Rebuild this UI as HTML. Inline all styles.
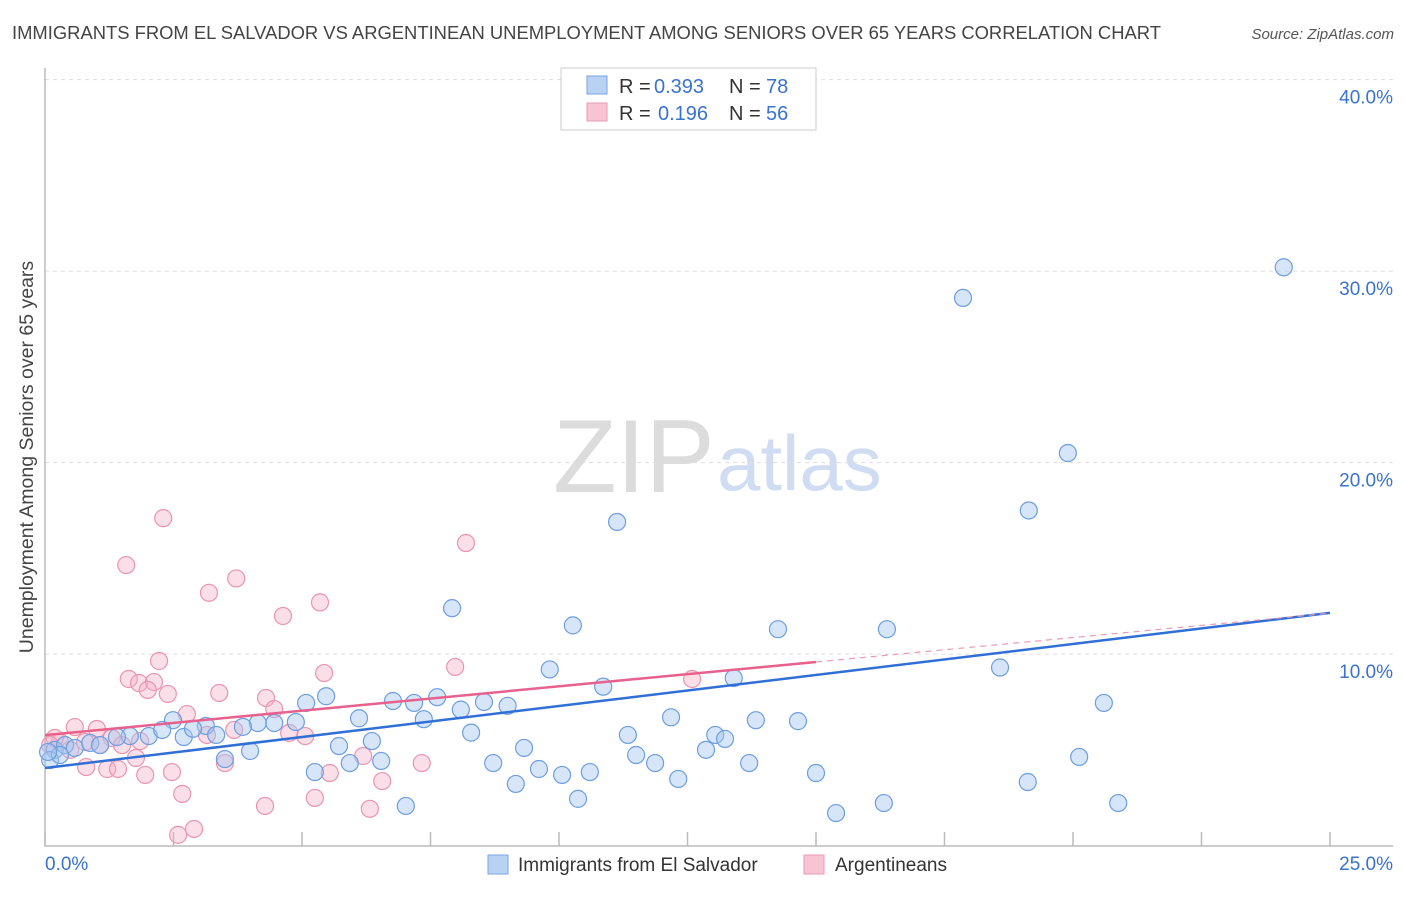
<!DOCTYPE html>
<html><head><meta charset="utf-8"><style>
body{margin:0;background:#fff;font-family:"Liberation Sans",sans-serif}
svg text{font-family:"Liberation Sans",sans-serif}
</style></head><body>
<svg id="chart" width="1406" height="892">
<text x="12" y="39" font-size="18.4" fill="#444">IMMIGRANTS FROM EL SALVADOR VS ARGENTINEAN UNEMPLOYMENT AMONG SENIORS OVER 65 YEARS CORRELATION CHART</text>
<text x="1394" y="39" font-size="15" fill="#555" font-style="italic" text-anchor="end">Source: ZipAtlas.com</text>
<text transform="translate(33,457) rotate(-90)" font-size="19.5" fill="#444" text-anchor="middle">Unemployment Among Seniors over 65 years</text>
<g>
<text x="553" y="492" font-size="104" fill="#dcdcdc" font-family="Liberation Serif,serif">ZIP</text>
<text x="717" y="490" font-size="78" fill="#cfdcf2">atlas</text>
</g>
<g id="grid"></g>
<g id="axes"></g>
<g id="pts"></g>
<g id="lines"></g>
<g>
<rect x="561" y="68" width="255" height="62" fill="#fff" stroke="#ccc"/>
<rect x="587" y="76" width="20" height="18" fill="#b9d2f4" stroke="#7ba5e2"/>
<rect x="587" y="103" width="20" height="18" fill="#f8c4d4" stroke="#ea9ab4"/>
<text x="619" y="93" font-size="20" fill="#333">R =</text>
<text x="654" y="93" font-size="20" fill="#3a72d0">0.393</text>
<text x="729" y="93" font-size="20" fill="#333">N =</text>
<text x="766" y="93" font-size="20" fill="#3a72d0">78</text>
<text x="619" y="120" font-size="20" fill="#333">R =</text>
<text x="658" y="120" font-size="20" fill="#3a72d0">0.196</text>
<text x="729" y="120" font-size="20" fill="#333">N =</text>
<text x="766" y="120" font-size="20" fill="#3a72d0">56</text>
</g>
<g>
<rect x="488" y="855" width="20" height="19" fill="#b9d2f4" stroke="#7ba5e2"/>
<text x="518" y="871" font-size="19" fill="#333">Immigrants from El Salvador</text>
<rect x="804" y="855" width="20" height="19" fill="#f8c4d4" stroke="#ea9ab4"/>
<text x="835" y="871" font-size="19" fill="#333">Argentineans</text>
</g>
</svg>
<script>
const blueX=[24.1,17.86,19.9,19.14,11.13,7.92,10.27,14.26,16.38,18.58,9.82,10.86,13.4,5.47,5.08,6.77,7.18,7.63,8.09,8.54,9.0,20.6,2.49,3.13,6.11,7.37,12.18,13.83,14.65,8.29,13.04,13.23,11.34,2.7,3.33,2.02,2.28,1.65,1.4,4.14,4.46,4.88,3.85,2.88,5.72,6.36,9.32,3.99,3.5,11.5,12.86,20.12,5.93,6.54,8.72,11.87,13.7,9.61,10.06,10.6,5.25,12.32,15.0,19.12,9.16,10.37,7.02,16.32,20.88,15.39,0.19,0.39,0.58,0.88,1.07,0.1,0.29,0.06];
const blueY=[30.2,28.6,20.5,17.5,16.9,12.4,11.5,11.3,11.3,9.3,9.2,8.3,8.75,7.8,7.45,7.55,7.45,7.75,7.1,7.5,7.3,7.45,6.55,6.25,6.65,6.6,6.7,6.55,6.5,5.9,5.78,5.57,5.78,5.67,5.78,5.72,6.04,5.72,5.67,6.4,6.4,6.45,6.2,6.1,5.2,5.46,5.1,4.94,4.52,4.73,5.0,4.63,4.31,4.42,4.31,4.31,4.31,4.0,3.69,3.84,3.84,3.48,3.79,3.32,3.22,2.44,2.07,2.22,2.22,1.7,5.0,5.25,5.1,5.36,5.25,4.47,4.73,4.89];
const pinkX=[2.3,8.19,1.58,3.72,3.19,5.35,4.63,2.22,7.98,5.43,1.63,1.83,2.12,2.0,2.39,3.39,4.3,4.46,2.76,3.68,0.58,1.01,12.59,5.06,4.75,3.15,1.3,1.85,1.5,1.07,0.78,0.29,0.19,0.1,0.49,1.77,6.19,3.5,7.33,0.8,1.21,1.42,1.95,2.47,5.54,6.56,2.67,4.28,5.25,6.32,2.59,2.9];
const pinkY=[17.1,15.8,14.65,13.95,13.2,12.7,11.99,9.64,9.33,9.01,8.7,8.49,8.54,8.13,7.92,7.97,7.71,7.13,6.87,6.04,6.19,6.09,8.7,5.72,5.88,5.78,5.62,5.46,5.25,5.25,5.41,5.41,5.62,5.25,5.0,4.58,4.68,4.31,4.31,4.1,4.0,4.0,3.69,3.84,3.79,3.37,2.7,2.07,2.49,1.92,0.56,0.87];
const blueFit=[4.05,12.15];
const pinkFit=[5.77,9.59,15.0];
const yTicks=[10,20,30,40];
const yTickLabels=["10.0%","20.0%","30.0%","40.0%"];
const xTickVals=[0,2.5,5,7.5,10,12.5,15,17.5,20,22.5,25];

const NS="http://www.w3.org/2000/svg";
const X=v=>45+v*51.4, Y=v=>845.6-v*19.15;
function mk(t,a,p){const e=document.createElementNS(NS,t);for(const k in a)e.setAttribute(k,a[k]);p.appendChild(e);return e;}
const grid=document.getElementById('grid'),axes=document.getElementById('axes'),pts=document.getElementById('pts'),lines=document.getElementById('lines');
yTicks.forEach((v,i)=>{
  const l=mk('line',{x1:45,x2:1393,y1:Y(v),y2:Y(v),stroke:'#ddd','stroke-dasharray':'4,4'},grid);
  
  
  const t=mk('text',{x:1393,y:Y(v)+24,'font-size':19,fill:'#3a72d0','text-anchor':'end'},grid);
  t.textContent=yTickLabels[i];
  
  
});
const ax=mk('path',{d:'M45,68V846H1393',fill:'none',stroke:'#bbb','stroke-width':1.5},axes);


xTickVals.forEach(v=>{
  const t=mk('line',{x1:X(v),x2:X(v),y1:832,y2:846,stroke:'#bbb','stroke-width':1.5},axes);
  
  
});
const xl=mk('text',{x:45,y:870,'font-size':19,fill:'#3a72d0'},axes);xl.textContent='0.0%';


const xr=mk('text',{x:1393,y:870,'font-size':19,fill:'#3a72d0','text-anchor':'end'},axes);xr.textContent='25.0%';


pinkX.forEach((v,i)=>{
  const c=mk('circle',{cx:X(v),cy:Y(pinkY[i]),r:8.5,fill:'rgba(245,175,198,0.4)',stroke:'#ea94b0','stroke-width':1.2},pts);
  
  
});
blueX.forEach((v,i)=>{
  const c=mk('circle',{cx:X(v),cy:Y(blueY[i]),r:8.5,fill:'rgba(165,198,240,0.45)',stroke:'#6d9ee0','stroke-width':1.2},pts);
  
  
});
const bl=mk('line',{x1:X(0),y1:Y(blueFit[0]),x2:X(25),y2:Y(blueFit[1]),stroke:'#2f6fd6','stroke-width':2.5},lines);


const slope=(pinkFit[1]-pinkFit[0])/pinkFit[2];
const pl=mk('line',{x1:X(0),y1:Y(pinkFit[0]),x2:X(pinkFit[2]),y2:Y(pinkFit[1]),stroke:'#e8608c','stroke-width':2.5},lines);


const pd=mk('line',{x1:X(pinkFit[2]),y1:Y(pinkFit[1]),x2:X(25),y2:Y(pinkFit[0]+slope*25),stroke:'#ec9ab4','stroke-width':1.2,'stroke-dasharray':'6,5'},lines);


</script>
</body></html>
